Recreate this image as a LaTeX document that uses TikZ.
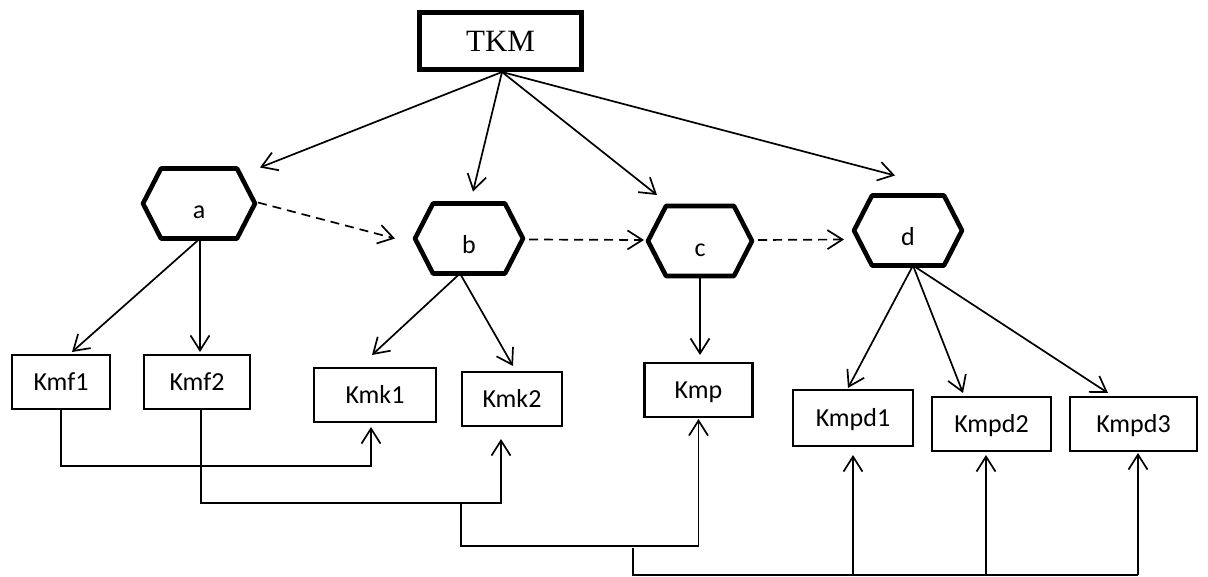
\documentclass[tikz,border=0pt]{standalone}
\usepackage{fontspec}
\setmainfont{Carlito}
\newfontfamily\tkmfont{Liberation Serif}
\usetikzlibrary{arrows.meta,calc}
\begin{document}
\begin{tikzpicture}[x=1pt,y=-1pt,
  every node/.style={inner sep=0pt, outer sep=0pt},
  tkmbox/.style={draw, line width=5.5pt, minimum width=162pt, minimum height=57pt,
    text height=20.5pt, text depth=0pt, font=\tkmfont\fontsize{31}{36}\selectfont},
  boxnode/.style={draw, line width=2.4pt, minimum height=54pt, text height=17pt,
    text depth=0pt, font=\fontsize{26}{30}\selectfont},
  hexnode/.style={minimum height=70pt, text height=30pt, text depth=0pt,
    font=\fontsize{26}{30}\selectfont},
  hexline/.style={line width=4.6pt, line join=round},
  arr/.style={line width=1.7pt, -{Straight Barb[length=15pt,width=19pt]}},
  darr/.style={arr, dash pattern=on 9pt off 6pt},
  wire/.style={line width=1.7pt},
]
\useasboundingbox (0,0) rectangle (1208,576);

% top node
\node[tkmbox] (TKM) at (500.5,41) {TKM};

% hexagons
\node[hexnode, minimum width=112pt] (a) at (199,203.5) {a};
\node[hexnode, minimum width=108pt] (b) at (469,238.5) {b};
\node[hexnode, minimum width=104pt] (c) at (700,241) {c};
\node[hexnode, minimum width=108pt] (d) at (908,230.5) {d};
\foreach \n in {a,b,c,d}{
  \draw[hexline] (\n.west) -- ($(\n.north west)+(18,0)$) -- ($(\n.north east)+(-18,0)$)
    -- (\n.east) -- ($(\n.south east)+(-18,0)$) -- ($(\n.south west)+(18,0)$) -- cycle;
}

% boxes
\node[boxnode, minimum width=98pt]  (Kmf1)  at (61,382)     {Kmf1};
\node[boxnode, minimum width=106pt] (Kmf2)  at (197,382)    {Kmf2};
\node[boxnode, minimum width=122pt] (Kmk1)  at (375,395)    {Kmk1};
\node[boxnode, minimum width=100pt] (Kmk2)  at (512,399)    {Kmk2};
\node[boxnode, minimum width=108pt] (Kmp)   at (698.5,390)  {Kmp};
\node[boxnode, minimum width=120pt, minimum height=56pt] (Kmpd1) at (853,418) {Kmpd1};
\node[boxnode, minimum width=119pt] (Kmpd2) at (991.5,424)  {Kmpd2};
\node[boxnode, minimum width=127pt] (Kmpd3) at (1133.5,424) {Kmpd3};

% arrows from TKM
\coordinate (top) at ($(TKM.south)+(1.5,2.5)$);
\draw[arr] (top) -- ($(a.north east)+(5,-1)$);
\draw[arr] (top) -- ($(b.north)+(4,-12)$);
\draw[arr] (top) -- ($(c.north)+(-43,-11)$);
\draw[arr] (top) -- ($(d.north)+(-13,-20)$);

% dashed arrows
\draw[darr] ($(a.east)+(3,-1)$) -- ($(b.west)+(-20,0)$);
\draw[darr] ($(b.east)+(6,1)$) -- ($(c.west)+(-4,-1)$);
\draw[darr] ($(c.east)+(6,-1)$) -- ($(d.west)+(-10,9)$);

% from a
\coordinate (aout) at ($(a.south)+(1,0)$);
\draw[arr] (aout) -- ($(Kmf1.north)+(11,-3)$);
\draw[arr] (aout) -- ($(aout |- Kmf2.north)+(0,-3)$);

% from b
\coordinate (bout) at ($(b.south)+(-9,0)$);
\draw[arr] (bout) -- ($(Kmk1.north)+(-3,-13)$);
\draw[arr] (bout) -- ($(Kmk2.north)+(1,-6)$);

% from c
\draw[arr] (c.south) -- ($(c.south |- Kmp.north)+(0,-8)$);

% from d
\coordinate (dout) at ($(d.south)+(5,0)$);
\draw[arr] (dout) -- ($(Kmpd1.north)+(-5,-2)$);
\draw[arr] (dout) -- ($(Kmpd2.north)+(-28.5,-4)$);
\draw[arr] (dout) -- ($(Kmpd3.north)+(-25.5,-4)$);

% bottom wiring
\draw[arr] (Kmf1.south) -- ++(0,57) -| ($(Kmk1.south)+(-4,5)$);
\draw[arr] ($(Kmf2.south)+(4,0)$) -- ++(0,94) -| ($(Kmk2.south)+(-11,13)$);
\coordinate (j1) at (461,503);
\draw[arr] (j1) -- ++(0,43) -| ($(Kmp.south)+(0,2)$);
\coordinate (j2) at (633,548);
\draw[wire] (j2) |- ($(Kmpd3.south)+(4.5,124)$);
\draw[arr] ($(Kmpd1.south)+(0,128)$) -- ($(Kmpd1.south)+(0,9)$);
\draw[arr] ($(Kmpd2.south)+(-5.5,124)$) -- ($(Kmpd2.south)+(-5.5,4)$);
\draw[arr] ($(Kmpd3.south)+(4.5,124)$) -- ($(Kmpd3.south)+(4.5,2)$);
\end{tikzpicture}
\end{document}
